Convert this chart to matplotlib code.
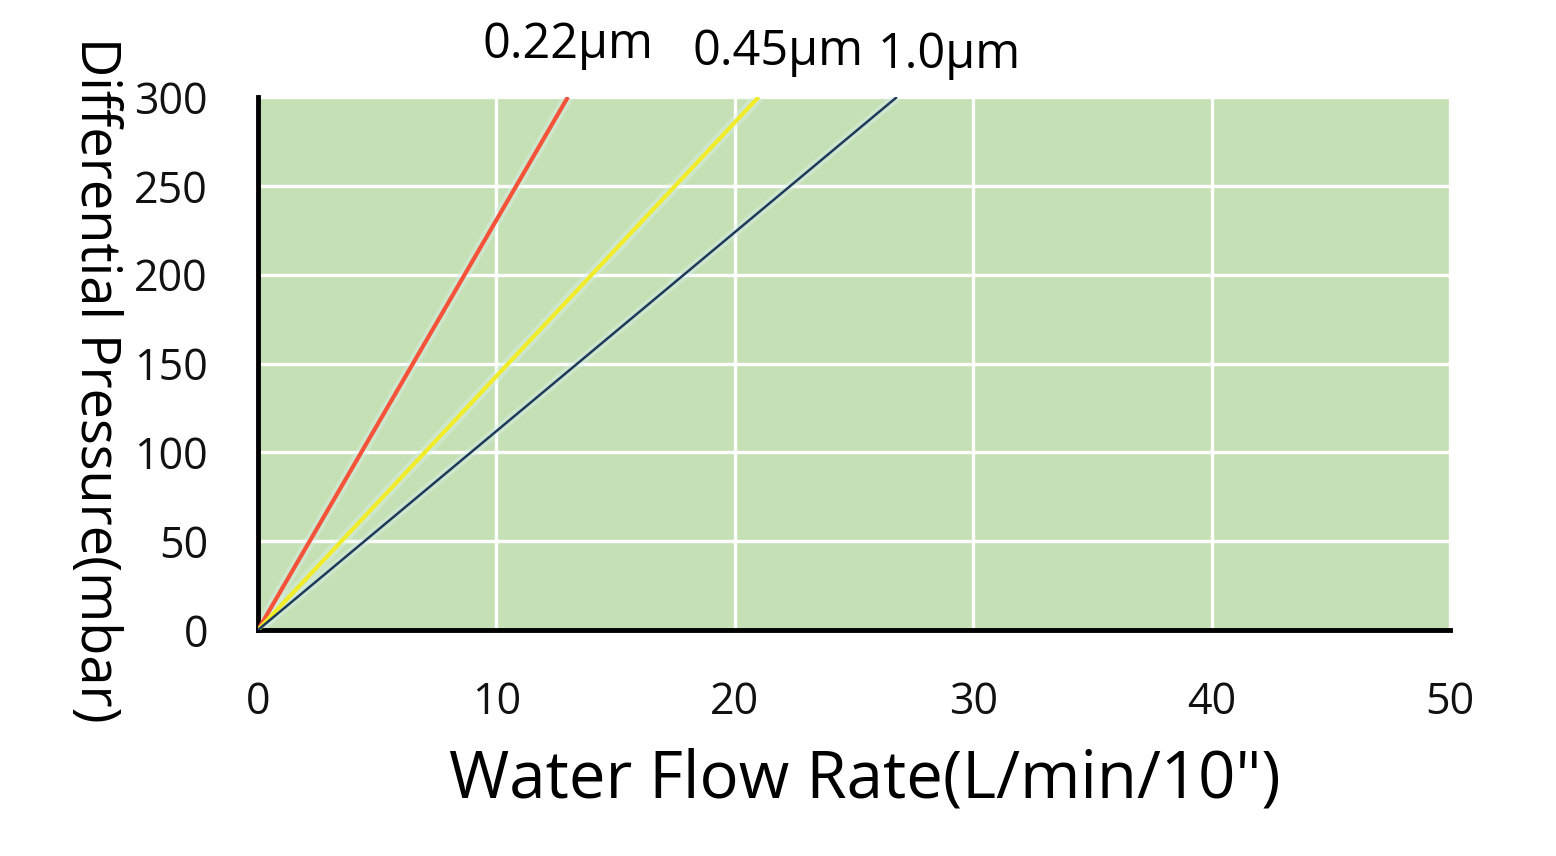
import matplotlib
matplotlib.use('Agg')
import matplotlib.pyplot as plt
import matplotlib.transforms as mtransforms

plt.rcParams['font.family'] = ['Open Sans', 'DejaVu Sans']

# filter pore sizes and their flow/pressure lines (start and end points)
labels = ['0.22μm', '0.45μm', '1.0μm']
flow = [[0, 13.0], [0, 21.0], [0, 26.8]]          # L/min/10"
pressure = [[0, 300], [0, 300], [0, 300]]         # mbar
colors = ['#f4533a', '#f0ec2a', '#1f3b5c']
widths = [3.0, 3.0, 1.8]

xticks = [0, 10, 20, 30, 40, 50]
yticks = [0, 50, 100, 150, 200, 250, 300]

# label anchors: x in data units, y in axes fraction
label_x = [13.0, 21.8, 29.0]
label_y = [1.098, 1.084, 1.079]

fig = plt.figure(figsize=(15.56, 8.56), dpi=100)
ax = fig.add_axes([258 / 1556, 1 - 630 / 856, 1192 / 1556, 533 / 856])
ax.set_facecolor('#c6e0b5')

ax.set_xlim(0, 50)
ax.set_ylim(0, 300)
ax.set_xticks(xticks)
ax.set_yticks(yticks)
ax.grid(True, color='white', linewidth=2.4, zorder=0)
ax.set_axisbelow(True)

for x, y, c, w in zip(flow, pressure, colors, widths):
    ax.plot(x, y, color='#d8f0ea', linewidth=w + 5, alpha=0.45,
            solid_capstyle='butt', zorder=2)
    ax.plot(x, y, color=c, linewidth=w, solid_capstyle='butt', zorder=3)

trans = mtransforms.blended_transform_factory(ax.transData, ax.transAxes)
for lx, ly, t in zip(label_x, label_y, labels):
    ax.text(lx, ly, t, transform=trans, ha='center', va='center',
            fontsize=35, color='black', clip_on=False)

for s in ['top', 'right']:
    ax.spines[s].set_visible(False)
for s in ['left', 'bottom']:
    ax.spines[s].set_linewidth(3.5)
    ax.spines[s].set_color('black')
    ax.spines[s].set_capstyle('projecting')

ax.tick_params(axis='both', length=0, labelsize=31, colors='#111111')
ax.tick_params(axis='x', pad=36)
ax.tick_params(axis='y', pad=36)

fig.text(865 / 1556, 1 - 780 / 856, 'Water Flow Rate(L/min/10")',
         ha='center', va='center', fontsize=47)
fig.text(95 / 1556, 1 - 380 / 856, 'Differential Pressure(mbar)',
         ha='center', va='center', rotation=270, fontsize=39)

fig.savefig('out.png', dpi=100, facecolor='white')
